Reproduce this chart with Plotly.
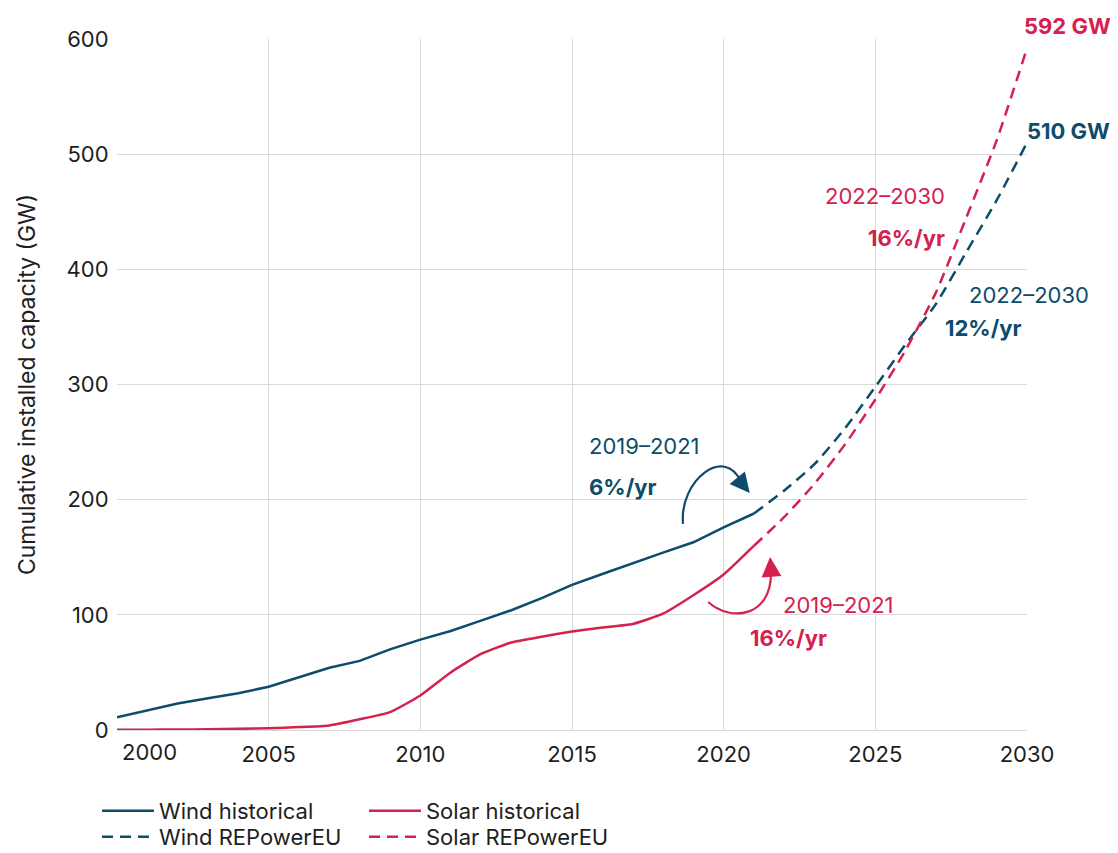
import plotly.graph_objects as go

# ---------------- data ----------------
hist_years = list(range(2000, 2022))
wind_hist = [11, 17, 23, 27.5, 32, 37.5, 46, 54, 60, 70, 78.5, 86, 95, 104, 114.5,
             126, 135.5, 145, 154, 163, 176, 188]
solar_hist = [0.2, 0.3, 0.4, 0.6, 1.0, 1.5, 2.5, 4.0, 9.3, 15.5, 30, 50, 66, 76, 81,
              85.5, 89, 92, 101, 117, 135, 160]

proj_years = list(range(2021, 2031))
wind_proj = [188, 208, 231, 262, 298, 335, 370, 415, 460, 510]
solar_proj = [160, 185, 214, 248, 287, 330, 380, 445, 512, 592]

x_ticks = [2000, 2005, 2010, 2015, 2020, 2025, 2030]
y_ticks = [0, 100, 200, 300, 400, 500, 600]

TEAL = "#0D4C6B"
CRIMSON = "#D4214D"
TEXT = "#1E1E1E"
GRID = "#D9D9D9"
FONT = "Inter"
FS = 22

fig = go.Figure()
fig.add_trace(go.Scatter(x=hist_years, y=wind_hist, mode="lines", name="Wind historical",
                         line=dict(color=TEAL, width=2.5), legend="legend"))
fig.add_trace(go.Scatter(x=hist_years, y=solar_hist, mode="lines", name="Solar historical",
                         line=dict(color=CRIMSON, width=2.5, shape="spline", smoothing=0.5),
                         legend="legend"))
fig.add_trace(go.Scatter(x=proj_years, y=wind_proj, mode="lines", name="Wind REPowerEU",
                         line=dict(color=TEAL, width=2.5, dash="11px,7px", shape="spline",
                                   smoothing=0.6), legend="legend2"))
fig.add_trace(go.Scatter(x=proj_years, y=solar_proj, mode="lines", name="Solar REPowerEU",
                         line=dict(color=CRIMSON, width=2.5, dash="11px,7px", shape="spline",
                                   smoothing=0.6), legend="legend2"))

# curved arrows (decorations)
fig.add_shape(type="path", xref="x", yref="y",
              path="M 2018.66,178.9 C 2018.53,217.1 2020.05,247.5 2020.57,215.3",
              line=dict(color=TEAL, width=2.2))
fig.add_shape(type="path", xref="x", yref="y",
              path="M 2019.49,111.1 C 2020.21,93.8 2021.60,97.2 2021.56,138.1",
              line=dict(color=CRIMSON, width=2.2))

annotations = [
    dict(x=2020.86, y=205.8, ax=-9, ay=-11, showarrow=True, arrowhead=2, arrowsize=1.8,
         arrowwidth=2.2, arrowcolor=TEAL, text=""),
    dict(x=2021.53, y=150.2, ax=1, ay=14, showarrow=True, arrowhead=2, arrowsize=1.8,
         arrowwidth=2.2, arrowcolor=CRIMSON, text=""),
    # wind 2019-2021
    dict(x=2015.5, y=246.6, text="2019–2021", xanchor="left", yanchor="middle",
         showarrow=False, font=dict(color=TEAL, size=FS)),
    dict(x=2015.5, y=211, text="<b>6%/yr</b>", xanchor="left", yanchor="middle",
         showarrow=False, font=dict(color=TEAL, size=FS)),
    # solar 2019-2021
    dict(x=2021.89, y=108.5, text="2019–2021", xanchor="left", yanchor="middle",
         showarrow=False, font=dict(color=CRIMSON, size=FS)),
    dict(x=2020.80, y=79.9, text="<b>16%/yr</b>", xanchor="left", yanchor="middle",
         showarrow=False, font=dict(color=CRIMSON, size=FS)),
    # solar 2022-2030
    dict(x=2027.37, y=463.7, text="2022–2030", xanchor="right", yanchor="middle",
         showarrow=False, font=dict(color=CRIMSON, size=FS)),
    dict(x=2027.37, y=427.2, text="<b>16%/yr</b>", xanchor="right", yanchor="middle",
         showarrow=False, font=dict(color=CRIMSON, size=FS)),
    # wind 2022-2030
    dict(x=2028.03, y=377.7, text="2022–2030", xanchor="left", yanchor="middle",
         showarrow=False, font=dict(color=TEAL, size=FS)),
    dict(x=2027.23, y=349, text="<b>12%/yr</b>", xanchor="left", yanchor="middle",
         showarrow=False, font=dict(color=TEAL, size=FS)),
    # end labels
    dict(x=proj_years[-1], y=solar_proj[-1], text=f"<b>{solar_proj[-1]} GW</b>", xanchor="left",
         yanchor="middle", xshift=-5, yshift=22, showarrow=False,
         font=dict(color=CRIMSON, size=FS)),
    dict(x=proj_years[-1], y=wind_proj[-1], text=f"<b>{wind_proj[-1]} GW</b>", xanchor="left",
         yanchor="middle", xshift=-2, yshift=12, showarrow=False,
         font=dict(color=TEAL, size=FS)),
    # first x tick label (shifted inside)
    dict(x=x_ticks[0], y=0, xref="x", yref="paper", text=str(x_ticks[0]), xanchor="left",
         yanchor="middle", xshift=3, yshift=-22, showarrow=False,
         font=dict(color=TEXT, size=FS)),
]

W, H = 1110, 845
legend_common = dict(orientation="h", xref="container", yref="container",
                     x=89 / W, xanchor="left", yanchor="middle",
                     entrywidth=200, entrywidthmode="pixels", itemwidth=52,
                     font=dict(size=FS, color=TEXT), bgcolor="rgba(0,0,0,0)")

fig.update_layout(
    width=W, height=H,
    margin=dict(l=109, r=91, t=31, b=123),
    paper_bgcolor="white", plot_bgcolor="white",
    font=dict(family=FONT, color=TEXT, size=FS),
    annotations=annotations,
    showlegend=True,
    legend=dict(legend_common, y=1 - 803 / H),
    legend2=dict(legend_common, y=1 - 829 / H),
)

fig.update_xaxes(range=[2000, 2030], tickvals=x_ticks,
                 ticktext=[""] + [str(v) for v in x_ticks[1:]],
                 showgrid=True, gridcolor=GRID, gridwidth=1, zeroline=False,
                 showline=False, ticks="outside", ticklen=5, tickcolor="rgba(0,0,0,0)",
                 tickfont=dict(size=FS, color=TEXT))
fig.update_yaxes(range=[0, 600], tickvals=y_ticks, showgrid=True, gridcolor=GRID, gridwidth=1,
                 zeroline=True, zerolinecolor=GRID, zerolinewidth=1,
                 ticks="outside", ticklen=3, tickcolor="rgba(0,0,0,0)",
                 tickfont=dict(size=FS, color=TEXT),
                 title=dict(text="Cumulative installed capacity (GW)", font=dict(size=23, color=TEXT),
                            standoff=24))

fig.write_html("out.html")
